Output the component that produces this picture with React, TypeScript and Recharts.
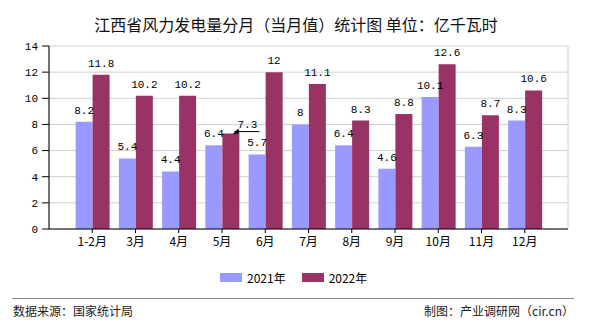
import React from 'react';
import { BarChart, Bar, XAxis, YAxis, CartesianGrid, LabelList } from 'recharts';

const months = ['1-2月', '3月', '4月', '5月', '6月', '7月', '8月', '9月', '10月', '11月', '12月'];
const values2021 = [8.2, 5.4, 4.4, 6.4, 5.7, 8, 6.4, 4.6, 10.1, 6.3, 8.3];
const values2022 = [11.8, 10.2, 10.2, 7.3, 12, 11.1, 8.3, 8.8, 12.6, 8.7, 10.6];
const yTicks = [0, 2, 4, 6, 8, 10, 12, 14];
const frameTicks = [0, 1, 2, 3, 4, 5, 6, 7, 8, 9, 10, 11, 12];

const data = months.map((m, i) => ({ month: m, y2021: values2021[i], y2022: values2022[i] }));

const CJK = '"Noto Sans CJK SC", "Noto Sans", sans-serif';
const NUM = '"Liberation Mono", "DejaVu Sans Mono", monospace';

// 5月 2022 has its label pushed aside with a pointer, like the original
const label2022 = (props: any) => {
  const { x, y, width, value, index } = props;
  if (index === 3) {
    return (
      <g>
        <text x={x + 25} y={y - 6} textAnchor="middle" fontSize={11} fontFamily={NUM} fill="#000">{value}</text>
        <line x1={x + 12} y1={y - 2} x2={x + 37} y2={y - 2} stroke="#000" strokeWidth={1} />
        <path d={`M${x + 10},${y + 1} L${x + 16},${y - 5} L${x + 17},${y}Z`} fill="#000" />
      </g>
    );
  }
  return (
    <text x={x + width / 2} y={y - 8} textAnchor="middle" fontSize={11} fontFamily={NUM} fill="#000">{value}</text>
  );
};

const label2021 = (props: any) => {
  const { x, y, width, value } = props;
  return (
    <text x={x + width / 2} y={y - 8} textAnchor="middle" fontSize={11} fontFamily={NUM} fill="#000">{value}</text>
  );
};

export default function App() {
  return (
    <div style={{ position: 'absolute', left: 0, top: 0, width: 590, height: 330, background: '#fff', fontFamily: CJK }}>
      <div style={{ position: 'absolute', left: 0, top: 12, width: 592, textAlign: 'center', fontSize: 16, color: '#111' }}>
        江西省风力发电量分月（当月值）统计图 单位：亿千瓦时
      </div>
      <BarChart width={590} height={330} data={data} barGap={0} barSize={17}
        margin={{ top: 46, right: 22, left: 9, bottom: 71 }}>
        <XAxis xAxisId="frame" type="number" orientation="top" domain={[0, 12]} ticks={frameTicks}
          height={0} axisLine={false} tickLine={false} tick={false} />
        <CartesianGrid xAxisId="frame" stroke="#d0d0d0" strokeWidth={1} />
        <XAxis dataKey="month" height={30} padding={{ left: 21.6, right: 21.6 }}
          axisLine={{ stroke: '#000' }} tickLine={{ stroke: '#000' }} tickSize={4} tickMargin={4}
          tick={{ fill: '#000', fontSize: 12, fontFamily: CJK }} interval={0} />
        <YAxis width={40} domain={[0, 14]} ticks={yTicks} axisLine={{ stroke: '#000' }}
          tickLine={{ stroke: '#000' }} tickSize={7} tickMargin={4}
          tick={{ fill: '#000', fontSize: 11, fontFamily: NUM }} />
        <Bar dataKey="y2021" fill="#9999ff" isAnimationActive={false}>
          <LabelList dataKey="y2021" content={label2021} />
        </Bar>
        <Bar dataKey="y2022" fill="#993366" isAnimationActive={false}>
          <LabelList dataKey="y2022" content={label2022} />
        </Bar>
      </BarChart>
      <div style={{ position: 'absolute', left: 220, top: 269, display: 'flex', alignItems: 'center', fontSize: 12, color: '#000' }}>
        <span style={{ display: 'inline-block', width: 22, height: 9, background: '#9999ff', marginRight: 5 }} />
        <span style={{ marginRight: 16 }}>2021年</span>
        <span style={{ display: 'inline-block', width: 22, height: 9, background: '#993366', marginRight: 5 }} />
        <span>2022年</span>
      </div>
      <div style={{ position: 'absolute', left: 12, top: 298, width: 562, borderTop: '1.5px solid #888' }} />
      <div style={{ position: 'absolute', left: 13, top: 302, fontSize: 12, color: '#222' }}>数据来源：国家统计局</div>
      <div style={{ position: 'absolute', right: 16, top: 302, fontSize: 12, color: '#222' }}>制图：产业调研网（cir.cn）</div>
    </div>
  );
}
